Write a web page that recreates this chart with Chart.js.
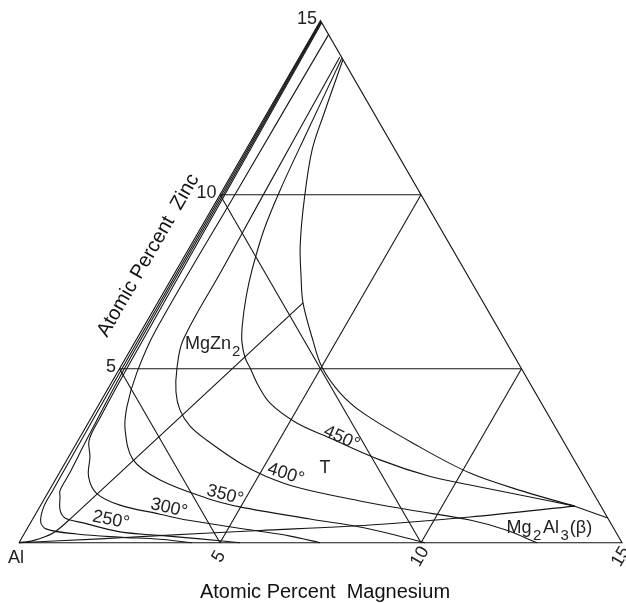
<!DOCTYPE html>
<html><head><meta charset="utf-8">
<script src="https://cdn.jsdelivr.net/npm/chart.js@4/dist/chart.umd.min.js"></script>
<style>html,body{margin:0;padding:0;background:#fff;}#wrap{width:626px;height:603px;}</style>
</head><body><div id="wrap"><canvas id="c" width="626" height="603"></canvas></div>
<script>
// Ternary compositions as [Mg at.%, Zn at.%] (balance Al)
const gridLevels = [5, 10];
const zincTicks = [5, 10, 15];
const magTicks = [5, 10, 15];
const zincTickLabels = ['5', '10', '15'];
const magTickLabels = ['5', '10', '15'];

const iso200 = [[0.02,14.98],[0.04,10],[0.06,5],[0.08,2.5],[0.09,1.5],[0.1,1.03],[0.24,0.6],[0.49,0.39],[1.31,0.25],[2.4,0.16],[3.45,0.1],[4.3,0]];
const iso250 = [[0.04,14.96],[0.08,10],[0.12,5],[0.2,3],[0.26,2],[0.27,1.5],[0.36,1.32],[0.55,0.94],[0.79,0.71],[1.31,0.57],[2.36,0.31],[3.4,0.21],[4.45,0.11],[5.5,0]];
const iso300 = [[0.06,14.94],[0.12,10],[0.18,5],[0.22,3.6],[0.27,2.95],[0.53,2.47],[0.78,1.9],[1.22,1.42],[1.97,1.08],[3.1,0.82],[3.85,0.65],[5.56,0.37],[6.65,0.19],[7.49,0]];
const iso350 = [[0.4,14.6],[0.37,10.13],[0.35,6.11],[0.49,4.88],[0.73,3.91],[1.02,3.24],[1.65,2.38],[2.61,1.8],[4.03,1.28],[4.98,1.03],[6.9,0.68],[8.4,0.42],[10.1,0]];
const iso400 = [[1.0,13.96],[1.08,9.93],[1.13,7.83],[1.17,5.82],[1.42,5.02],[1.74,4.33],[2.1,3.81],[2.58,3.35],[3.19,2.95],[4.35,2.29],[5.16,1.92],[6.2,1.57],[7.88,1.2],[9.26,0.94],[10.89,0.65],[11.91,0.37],[12.89,0]];
const iso450 = [[1.07,13.92],[1.26,11.86],[1.43,10.13],[1.6,8.98],[1.88,7.83],[2.12,7.06],[2.43,6.25],[2.66,5.77],[2.97,5.31],[3.24,5.02],[3.68,4.53],[4.24,4.01],[5.19,3.44],[6.23,3.01],[7.79,2.38],[9.28,1.9],[10.39,1.66],[11.78,1.37],[13.3,1.05]];
const boundaryT = [[1.12,13.87],[1.42,12.34],[1.65,11.28],[2.17,9.85],[2.72,8.55],[3.17,7.69],[3.62,6.89],[4.4,5.82],[5.01,5.05],[5.84,4.3],[6.69,3.73],[8.37,2.86],[10.22,2.0],[11.86,1.46],[13.3,1.05]];
const betaEdge = [[13.3,1.05],[14.29,0.71]];
const joinMgZn2 = [[0,0],[0.32,0.06],[0.71,0.28],[0.93,0.68],[3.62,6.89]];
const joinBeta = [[0,0],[1.96,0.11],[3.16,0.19],[5.82,0.35],[8.48,0.51],[10.85,0.74],[13.3,1.05]];

const tempLabels = ['250°','300°','350°','400°','450°'];
const tempAnchors = [[1.96,0.652],[3.23,0.997],[4.44,1.37],[5.65,1.974],[6.52,3.008]];
const tempAngles = [11,13,15,18,24];

const SQ = Math.sqrt(3) / 2;
const tern = p => ({x: p[0] + p[1] / 2, y: p[1] * SQ});
const LINE = '#151515';
function ds(points, tension) {
  return {data: points.map(tern), showLine: true, pointRadius: 0, pointHoverRadius: 0,
    borderColor: LINE, borderWidth: 1.1, tension: tension || 0, fill: false, clip: false};
}
const datasets = [];
datasets.push(ds([[0,0],[15,0],[0,15],[0,0]]));
gridLevels.forEach(v => {
  datasets.push(ds([[0,v],[15-v,v]]));
  datasets.push(ds([[v,0],[v,15-v]]));
  datasets.push(ds([[v,0],[0,v]]));
});
[iso200, iso250, iso300, iso350, iso400, iso450, boundaryT].forEach(c => datasets.push(ds(c, 0.35)));
datasets.push(ds(betaEdge));
datasets.push(ds(joinMgZn2, 0.3));
datasets.push(ds(joinBeta, 0.3));

const FF = '"Liberation Sans", Arial, Helvetica, sans-serif';
const textPlugin = {
  id: 'ternText',
  afterDraw(chart) {
    const {ctx, scales: {x, y}} = chart;
    const P = (mg, zn) => [x.getPixelForValue(mg + zn / 2), y.getPixelForValue(zn * SQ)];
    ctx.save();
    ctx.fillStyle = '#222';
    ctx.font = '18px ' + FF; ctx.textAlign = 'right'; ctx.textBaseline = 'alphabetic';
    zincTicks.forEach((v, i) => { const [px, py] = P(0, v); ctx.fillText(zincTickLabels[i], px - 3.5, py + 3); });
    magTicks.forEach((v, i) => {
      const [px, py] = P(v, 0);
      ctx.save(); ctx.translate(px - 1, py + 14); ctx.rotate(-Math.PI / 3);
      ctx.textAlign = 'center'; ctx.textBaseline = 'middle'; ctx.fillText(magTickLabels[i], 0, 0); ctx.restore();
    });
    { const [px, py] = P(0, 0); ctx.textAlign = 'left'; ctx.fillText('Al', px - 11, py + 20.3); }
    ctx.fillStyle = '#111'; ctx.font = '20px ' + FF;
    { const [px, py] = P(7.5, 0); ctx.textAlign = 'center'; ctx.fillText('Atomic Percent  Magnesium', px + 4.5, py + 55.3); }
    { const [px, py] = P(0, 7.8); ctx.save(); ctx.translate(px, py); ctx.rotate(-Math.PI / 3);
      ctx.textAlign = 'center'; ctx.textBaseline = 'middle'; ctx.fillText('Atomic Percent  Zinc', 0, -31.6); ctx.restore(); }
    ctx.fillStyle = '#222'; ctx.font = '18px ' + FF;
    tempLabels.forEach((t, i) => {
      const [px, py] = P(tempAnchors[i][0], tempAnchors[i][1]);
      ctx.save(); ctx.translate(px, py); ctx.rotate(tempAngles[i] * Math.PI / 180);
      ctx.textAlign = 'center'; ctx.textBaseline = 'middle'; ctx.fillText(t, 0, 0); ctx.restore();
    });
    const runs = (parts, px, py) => {
      ctx.textAlign = 'left'; ctx.textBaseline = 'alphabetic';
      let cx = px;
      parts.forEach(p => {
        ctx.font = (p.sub ? '15px ' : '18px ') + FF;
        cx += p.pre || 0;
        ctx.fillText(p.t, cx, py + (p.sub ? 7 : 0));
        cx += ctx.measureText(p.t).width + (p.post || 0);
      });
    };
    { const [px, py] = P(1.35, 5.564); runs([{t:'MgZn'},{t:'2', sub:true, pre:1}], px, py); }
    { const [px, py] = P(6.61, 2.002); ctx.font = '18px ' + FF; ctx.textAlign = 'center'; ctx.fillText('T', px, py); }
    { const [px, py] = P(11.99, 0.279); runs([{t:'Mg'},{t:'2', sub:true, pre:1.5, post:1.5},{t:'Al'},{t:'3', sub:true, pre:1.5, post:1},{t:'(β)'}], px, py); }
    ctx.restore();
  }
};

new Chart(document.getElementById('c'), {
  type: 'scatter',
  data: {datasets},
  options: {
    responsive: false, animation: false, devicePixelRatio: 1,
    layout: {padding: {left: 19, right: 4, top: 20.7, bottom: 60.3}},
    scales: {
      x: {type: 'linear', min: 0, max: 15, display: false},
      y: {type: 'linear', min: 0, max: 15 * SQ, display: false}
    },
    plugins: {legend: {display: false}, tooltip: {enabled: false}},
    events: []
  },
  plugins: [textPlugin]
});
</script></body></html>
